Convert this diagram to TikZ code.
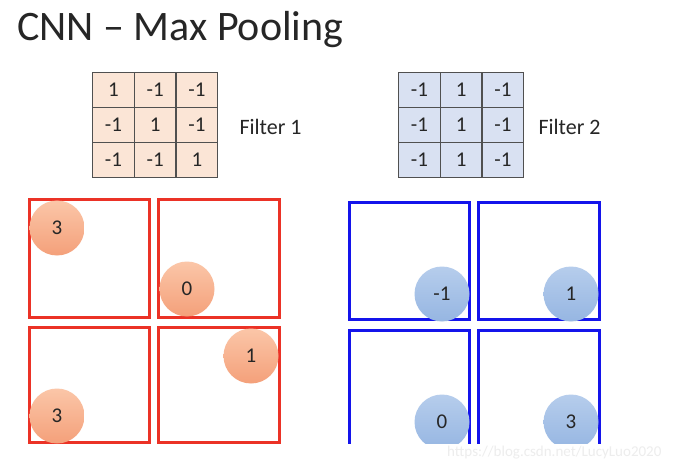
\documentclass[tikz,border=0pt]{standalone}
\usepackage{fontspec}
\setmainfont{Carlito}
\definecolor{txt}{RGB}{38,38,38}
\definecolor{gridc}{RGB}{80,80,80}
\definecolor{peach}{RGB}{251,229,214}
\definecolor{lblue}{RGB}{217,225,242}
\definecolor{redb}{RGB}{235,50,38}
\definecolor{blueb}{RGB}{20,20,235}
\definecolor{otop}{RGB}{251,198,168}
\definecolor{obot}{RGB}{244,160,122}
\definecolor{btop}{RGB}{182,205,236}
\definecolor{bbot}{RGB}{150,182,226}
\begin{document}
\begin{tikzpicture}[x=1pt,y=-1pt,
  cellA/.style={draw=gridc,line width=1.3pt,fill=peach,minimum width=41.7pt,minimum height=35pt,inner sep=0pt,anchor=north west,font=\fontsize{21}{21}\selectfont,text=txt},
  cellB/.style={cellA,fill=lblue},
  flabel/.style={font=\fontsize{22}{22}\selectfont,text=txt,anchor=west},
  rbox/.style={draw=redb,line width=3pt},
  bbox/.style={draw=blueb,line width=3pt},
  ocirc/.style={circle,minimum size=55pt,inner sep=0pt,top color=otop,bottom color=obot,font=\fontsize{21}{21}\selectfont,text=txt},
  bcirc/.style={circle,minimum size=55pt,inner sep=0pt,top color=btop,bottom color=bbot,font=\fontsize{21}{21}\selectfont,text=txt}]
\useasboundingbox (0,0) rectangle (688,465);
\fill[white] (0,0) rectangle (688,465);
\node[anchor=base west,inner sep=0pt,font=\fontsize{42}{42}\selectfont,text=txt] (title) at (17,41) {CNN -- Max Pooling};
% Filter 1
\foreach \r/\row in {0/{1,-1,-1},1/{-1,1,-1},2/{-1,-1,1}}{
  \foreach \v [count=\c from 0] in \row {
    \node[cellA] (fa\r\c) at ({92+41.7*\c},{72+35*\r}) {\v};
  }
}
\node[flabel] (f1) at (236,127) {Filter 1};
% Filter 2
\foreach \r/\row in {0/{-1,1,-1},1/{-1,1,-1},2/{-1,1,-1}}{
  \foreach \v [count=\c from 0] in \row {
    \node[cellB] (fb\r\c) at ({398+41.7*\c},{72+35*\r}) {\v};
  }
}
\node[flabel] (f2) at (535,127) {Filter 2};
\begin{scope}
\clip (0,0) rectangle (688,443);
% red boxes
\draw[rbox] (29,200) rectangle (149,317);
\draw[rbox] (158,200) rectangle (279,317);
\draw[rbox] (29,327) rectangle (149,442);
\draw[rbox] (158,327) rectangle (279,442);
% blue boxes
\draw[bbox] (349,203) rectangle (469,319);
\draw[bbox] (478,203) rectangle (599,319);
\draw[bbox] (349,450) -- (349,330) -- (469,330) -- (469,450);
\draw[bbox] (478,450) -- (478,330) -- (599,330) -- (599,450);
% circles
\node[ocirc] (o1) at (57,228) {3};
\node[ocirc] (o2) at (187,289) {0};
\node[ocirc] (o3) at (251,356) {1};
\node[ocirc] (o4) at (57,416) {3};
\node[bcirc] (b1) at (442,294) {-1};
\node[bcirc] (b2) at (571,294) {1};
\node[bcirc] (b3) at (442,422) {0};
\node[bcirc] (b4) at (571,422) {3};
\end{scope}
\node[anchor=west,inner sep=0pt,font=\fontsize{15}{15}\selectfont,text={black!7}] (wm) at (447,453) {https://blog.csdn.net/LucyLuo2020};
\end{tikzpicture}
\end{document}
